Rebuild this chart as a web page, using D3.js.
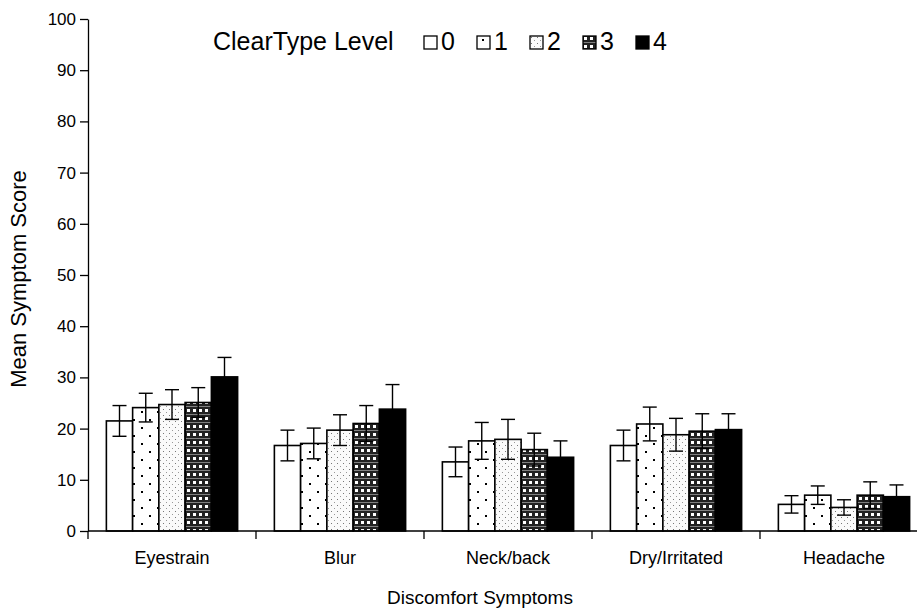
<!DOCTYPE html>
<html lang="en">
<head>
<meta charset="UTF-8">
<script src="https://d3js.org/d3.v7.min.js"></script>
<style>
  body { margin: 0; background: #fff; }
  text { font-family: "Liberation Sans", Arial, sans-serif; fill: #000; }
</style>
</head>
<body>
<script>
// Chart data
const categories = ['Eyestrain', 'Blur', 'Neck/back', 'Dry/Irritated', 'Headache'];
const levels = ['0', '1', '2', '3', '4'];
const yTicks = [0, 10, 20, 30, 40, 50, 60, 70, 80, 90, 100];

// mean symptom score per level, one value per category
const level0 = [21.5, 16.7, 13.5, 16.7, 5.2];
const level1 = [24.1, 17.1, 17.6, 20.9, 7.0];
const level2 = [24.7, 19.7, 17.9, 18.8, 4.6];
const level3 = [25.1, 21.0, 15.9, 19.5, 7.0];
const level4 = [30.1, 23.8, 14.4, 19.8, 6.7];

// error bar half-widths
const err0 = [3.0, 3.0, 2.9, 3.0, 1.7];
const err1 = [2.8, 3.0, 3.6, 3.3, 1.8];
const err2 = [2.9, 3.0, 3.9, 3.2, 1.5];
const err3 = [2.9, 3.5, 3.2, 3.4, 2.6];
const err4 = [3.8, 4.8, 3.2, 3.1, 2.3];

const means = [level0, level1, level2, level3, level4];
const errs = [err0, err1, err2, err3, err4];

const W = 917, H = 610;
const svg = d3.select('body').append('svg')
    .attr('width', W)
    .attr('height', H);

// patterns for the five levels
const defs = svg.append('defs');

const p1 = defs.append('pattern').attr('id', 'pat1')
    .attr('patternUnits', 'userSpaceOnUse').attr('width', 16).attr('height', 16);
p1.append('rect').attr('width', 16).attr('height', 16).attr('fill', '#fff');
p1.append('rect').attr('x', 5).attr('y', 3).attr('width', 2).attr('height', 2).attr('fill', '#000');
p1.append('rect').attr('x', 13).attr('y', 11).attr('width', 2).attr('height', 2).attr('fill', '#000');

const p2 = defs.append('pattern').attr('id', 'pat2')
    .attr('patternUnits', 'userSpaceOnUse').attr('width', 6).attr('height', 6);
p2.append('rect').attr('width', 6).attr('height', 6).attr('fill', '#fafafa');
p2.append('rect').attr('x', 1).attr('y', 1).attr('width', 1).attr('height', 1).attr('fill', '#777');
p2.append('rect').attr('x', 4).attr('y', 4).attr('width', 1).attr('height', 1).attr('fill', '#999');

const p3 = defs.append('pattern').attr('id', 'pat3')
    .attr('patternUnits', 'userSpaceOnUse').attr('width', 6).attr('height', 8);
p3.append('rect').attr('width', 6).attr('height', 8).attr('fill', '#222');
p3.append('rect').attr('x', 1).attr('y', 1).attr('width', 3).attr('height', 3).attr('fill', '#fff');
p3.append('rect').attr('x', 0).attr('y', 6).attr('width', 6).attr('height', 1).attr('fill', '#808080');

const fills = ['#fff', 'url(#pat1)', 'url(#pat2)', 'url(#pat3)', '#000'];

// scales
const x0 = d3.scaleBand()
    .domain(categories)
    .range([88, 928])
    .padding(0);

const x1 = d3.scaleBand()
    .domain(levels)
    .range([0, x0.bandwidth()])
    .paddingInner(0)
    .paddingOuter(0.7);

const y = d3.scaleLinear()
    .domain([0, 100])
    .range([531, 19]);

// bars
const rows = [];
levels.forEach((lv, li) => {
    categories.forEach((c, ci) => {
        rows.push({ cat: c, lv: lv, li: li, v: means[li][ci], e: errs[li][ci] });
    });
});

svg.append('g').selectAll('rect')
    .data(rows)
    .enter()
    .append('rect')
    .attr('x', d => x0(d.cat) + x1(d.lv))
    .attr('y', d => y(d.v))
    .attr('width', x1.bandwidth())
    .attr('height', d => y(0) - y(d.v))
    .attr('fill', d => fills[d.li])
    .attr('stroke', '#000')
    .attr('stroke-width', 1.6);

// error bars
const eb = svg.append('g')
    .attr('stroke', '#000')
    .attr('stroke-width', 1.4);
const cx = d => x0(d.cat) + x1(d.lv) + x1.bandwidth() / 2;
eb.selectAll('.ev').data(rows).enter().append('line')
    .attr('x1', cx).attr('x2', cx)
    .attr('y1', d => y(d.v + d.e)).attr('y2', d => y(d.v - d.e));
eb.selectAll('.et').data(rows).enter().append('line')
    .attr('x1', d => cx(d) - 7).attr('x2', d => cx(d) + 7)
    .attr('y1', d => y(d.v + d.e)).attr('y2', d => y(d.v + d.e));
eb.selectAll('.eb').data(rows).enter().append('line')
    .attr('x1', d => cx(d) - 7).attr('x2', d => cx(d) + 7)
    .attr('y1', d => y(d.v - d.e)).attr('y2', d => y(d.v - d.e));

// y axis
const yAxis = svg.append('g')
    .attr('transform', 'translate(88,0)')
    .call(d3.axisLeft(y).tickValues(yTicks).tickSize(8).tickPadding(4).tickSizeOuter(0));
yAxis.attr('font-size', null).attr('font-family', null);
yAxis.select('.domain').attr('stroke', '#000').attr('stroke-width', 1.3);
yAxis.selectAll('.tick line').attr('stroke', '#000').attr('stroke-width', 1.3);
yAxis.selectAll('.tick text').style('font-size', '17px');

// x axis: line, boundary ticks, category labels
const xAxis = svg.append('g')
    .attr('transform', `translate(0,${y(0)})`)
    .call(d3.axisBottom(x0).tickSize(0).tickPadding(20));
xAxis.attr('font-size', null).attr('font-family', null);
xAxis.select('.domain').attr('stroke', '#000').attr('stroke-width', 1.3)
    .attr('d', `M88,0H${x0.range()[1]}`);
xAxis.selectAll('.tick text').style('font-size', '18px');

const bounds = categories.map(c => x0(c)).concat([x0.range()[1]]);
xAxis.selectAll('.bound')
    .data(bounds)
    .enter()
    .append('line')
    .attr('x1', d => d).attr('x2', d => d)
    .attr('y1', 0).attr('y2', 8)
    .attr('stroke', '#000')
    .attr('stroke-width', 1.3);

// axis titles
svg.append('text')
    .attr('x', 480)
    .attr('y', 604)
    .attr('text-anchor', 'middle')
    .attr('font-size', '19px')
    .text('Discomfort Symptoms');

svg.append('text')
    .attr('transform', 'rotate(-90)')
    .attr('x', -279)
    .attr('y', 26)
    .attr('text-anchor', 'middle')
    .attr('font-size', '22px')
    .text('Mean Symptom Score');

// legend
svg.append('text')
    .attr('x', 213)
    .attr('y', 50)
    .attr('font-size', '25px')
    .text('ClearType Level');

const legend = svg.append('g')
    .selectAll('g')
    .data(levels)
    .enter()
    .append('g')
    .attr('transform', (d, i) => `translate(${424 + i * 53},36)`);

legend.append('rect')
    .attr('width', 13)
    .attr('height', 13)
    .attr('fill', (d, i) => fills[i])
    .attr('stroke', '#000')
    .attr('stroke-width', 1.3);

legend.append('text')
    .attr('x', 17)
    .attr('y', 14)
    .attr('font-size', '25px')
    .text(d => d);
</script>
</body>
</html>
